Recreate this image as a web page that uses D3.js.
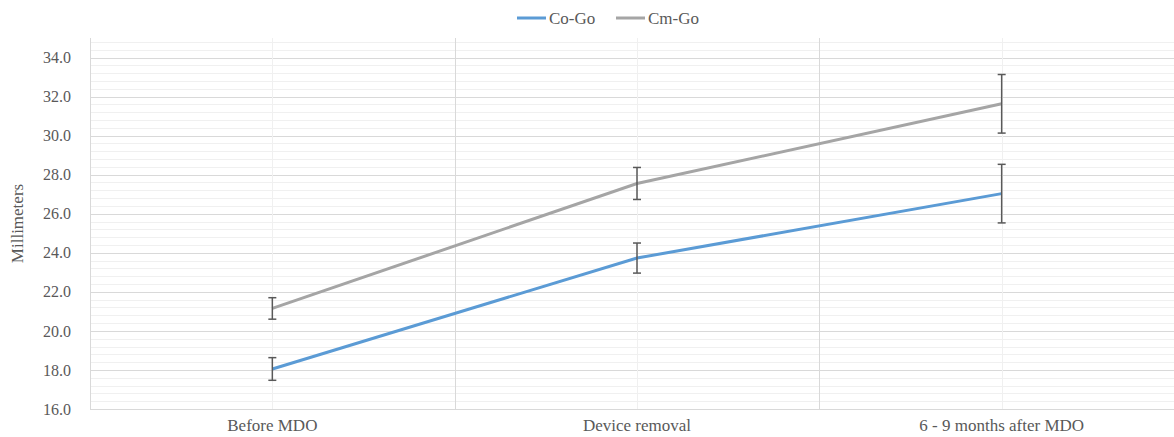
<!DOCTYPE html>
<meta charset="utf-8">
<style>
body { margin: 0; background: #fff; }
text { font-family: 'Liberation Serif', 'DejaVu Serif', 'Times New Roman', serif; fill: #595959; }
.tick line { stroke: none; }
.domain { stroke: none; }
</style>
<svg width="1174" height="437"></svg>
<script src="https://d3js.org/d3.v7.min.js"></script>
<script>
var categories = ["Before MDO", "Device removal", "6 - 9 months after MDO"];
var seriesNames = ["Co-Go", "Cm-Go"];
var coGoMeans = [18.05, 23.73, 27.03];
var coGoErr = [0.58, 0.77, 1.5];
var cmGoMeans = [21.15, 27.55, 31.63];
var cmGoErr = [0.55, 0.82, 1.5];
var seriesColors = ["#5B9BD5", "#A5A5A5"];
var yMajorTicks = [16, 18, 20, 22, 24, 26, 28, 30, 32, 34];

var series = [
  {name: seriesNames[0], means: coGoMeans, err: coGoErr, color: seriesColors[0]},
  {name: seriesNames[1], means: cmGoMeans, err: cmGoErr, color: seriesColors[1]}
];

var svg = d3.select("svg"),
    margin = {top: 38, right: -10, bottom: 28, left: 90},
    width = +svg.attr("width") - margin.left - margin.right,
    height = +svg.attr("height") - margin.top - margin.bottom;

var x = d3.scaleBand().domain(categories).range([0, width]);
var y = d3.scaleLinear().domain([16, 35]).range([height, 0]);

var g = svg.append("g")
    .attr("transform", "translate(" + margin.left + "," + margin.top + ")");

// minor gridlines every 0.4
var minor = d3.range(0, 48).map(function(i) { return +(16 + i * 0.4).toFixed(1); })
    .filter(function(v) { return yMajorTicks.indexOf(v) < 0; });
g.selectAll(".minor")
  .data(minor)
  .enter().append("line")
    .attr("x1", 0).attr("x2", width)
    .attr("y1", function(d) { return Math.round(y(d)) + 0.5; })
    .attr("y2", function(d) { return Math.round(y(d)) + 0.5; })
    .attr("stroke", "#f0f0f0");

g.selectAll(".major")
  .data(yMajorTicks)
  .enter().append("line")
    .attr("x1", 0).attr("x2", width)
    .attr("y1", function(d) { return Math.round(y(d)) + 0.5; })
    .attr("y2", function(d) { return Math.round(y(d)) + 0.5; })
    .attr("stroke", "#d9d9d9");

// vertical category separators
g.selectAll(".vsep")
  .data(categories.slice(1))
  .enter().append("line")
    .attr("x1", function(d) { return Math.round(x(d)) + 0.5; })
    .attr("x2", function(d) { return Math.round(x(d)) + 0.5; })
    .attr("y1", 0).attr("y2", height)
    .attr("stroke", "#d9d9d9");

// faint center lines
g.selectAll(".vcenter")
  .data(categories)
  .enter().append("line")
    .attr("x1", function(d) { return Math.round(x(d) + x.bandwidth() / 2) + 0.5; })
    .attr("x2", function(d) { return Math.round(x(d) + x.bandwidth() / 2) + 0.5; })
    .attr("y1", 0).attr("y2", height)
    .attr("stroke", "#f0f0f0");

// axis lines
g.append("line").attr("x1", 0.5).attr("x2", 0.5).attr("y1", 0).attr("y2", height).attr("stroke", "#d9d9d9");
g.append("line").attr("x1", 0).attr("x2", width).attr("y1", height + 0.5).attr("y2", height + 0.5).attr("stroke", "#d9d9d9");

g.append("g")
    .call(d3.axisLeft(y).tickValues(yMajorTicks).tickFormat(d3.format(".1f")).tickSize(0).tickPadding(19))
    .call(function(a) { a.attr("font-family", null).attr("font-size", null); })
    .selectAll("text").style("font-size", "16px");

g.append("g")
    .attr("transform", "translate(0," + height + ")")
    .call(d3.axisBottom(x).tickSize(0).tickPadding(10))
    .call(function(a) { a.attr("font-family", null).attr("font-size", null); })
    .selectAll("text").style("font-size", "17px");

svg.append("text")
    .attr("transform", "translate(23," + (margin.top + y(25.5)) + ") rotate(-90)")
    .attr("text-anchor", "middle")
    .style("font-size", "17px")
    .text("Millimeters");

var line = d3.line()
    .x(function(d, i) { return x(categories[i]) + x.bandwidth() / 2; })
    .y(function(d) { return y(d); });

series.forEach(function(s) {
  g.append("path")
      .datum(s.means)
      .attr("fill", "none")
      .attr("stroke", s.color)
      .attr("stroke-width", 3)
      .attr("d", line);
});

// error bars
series.forEach(function(s) {
  var eb = g.append("g");
  s.means.forEach(function(m, i) {
    var cx = x(categories[i]) + x.bandwidth() / 2;
    eb.append("line")
        .attr("x1", cx).attr("x2", cx)
        .attr("y1", y(m + s.err[i])).attr("y2", y(m - s.err[i]))
        .attr("stroke", "#595959").attr("stroke-width", 1.5);
    [m + s.err[i], m - s.err[i]].forEach(function(v) {
      eb.append("line")
          .attr("x1", cx - 4).attr("x2", cx + 4)
          .attr("y1", y(v)).attr("y2", y(v))
          .attr("stroke", "#595959").attr("stroke-width", 1.5);
    });
  });
});

// legend
var legend = svg.append("g").attr("transform", "translate(517,18)");
var legendX = [0, 99];
series.forEach(function(s, i) {
  var lg = legend.append("g").attr("transform", "translate(" + legendX[i] + ",0)");
  lg.append("line").attr("x1", 0).attr("x2", 29).attr("y1", 0).attr("y2", 0)
      .attr("stroke", s.color).attr("stroke-width", 3);
  lg.append("text").attr("x", 32).attr("y", 5.5)
      .style("font-size", "17px")
      .text(s.name);
});
</script>
